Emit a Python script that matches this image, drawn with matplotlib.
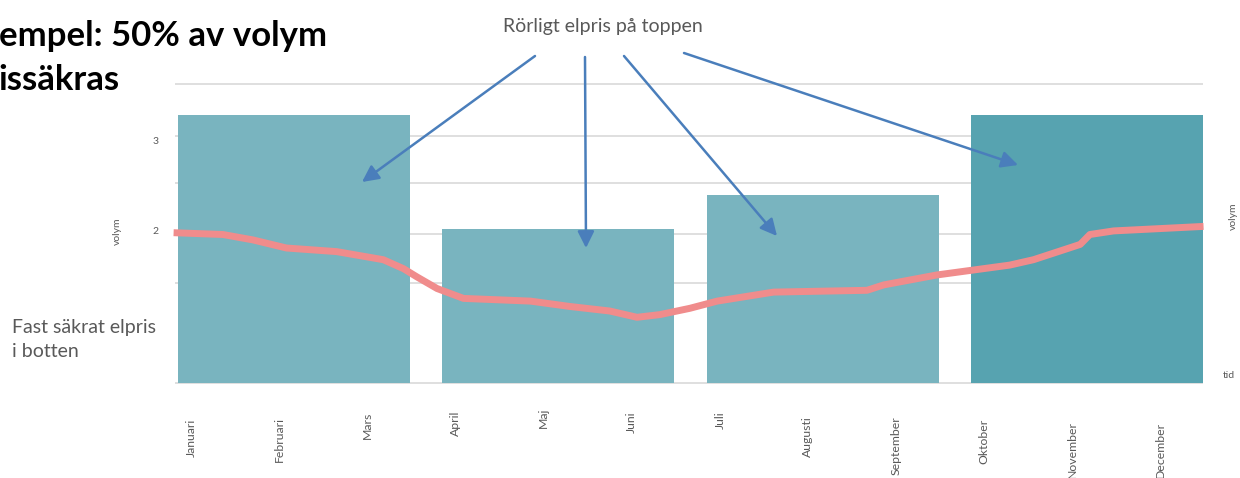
import numpy as np
import matplotlib
matplotlib.use("Agg")
import matplotlib.pyplot as plt

# --- data ---
months = ["Januari", "Februari", "Mars", "April", "Maj", "Juni",
          "Juli", "Augusti", "September", "Oktober", "November", "December"]
quarter_start = [0, 3, 6, 9]              # each bar covers three months
quarter_volume = [3.28, 2.01, 2.39, 3.28]
quarter_colors = ["#79b4bf", "#79b4bf", "#79b4bf", "#57a3b0"]

# hedged (fixed) price curve, x in months
price_x = [-0.05, 0.51, 0.85, 1.23, 1.80, 2.33, 2.56, 2.71, 2.94, 3.24, 4.00,
           4.45, 4.90, 5.21, 5.47, 5.81, 6.12, 6.76, 7.82, 8.01, 8.61, 9.44,
           9.71, 10.24, 10.35, 10.62, 11.64]
price_y = [1.97, 1.95, 1.89, 1.80, 1.76, 1.67, 1.57, 1.48, 1.35, 1.24, 1.21,
           1.15, 1.10, 1.03, 1.06, 1.13, 1.21, 1.31, 1.33, 1.39, 1.50, 1.61,
           1.67, 1.84, 1.95, 1.99, 2.04]

grid_levels = [3.62, 3.04, 2.52, 1.96, 1.41, 0.30]
ytick_vals = [2, 3]

# --- layout (pixels of a 1240x478 canvas) ---
W, H = 1240, 478
GREY = "#595959"
ARROW = "#4a7ebb"
FONT = ["Lato", "DejaVu Sans"]
plt.rcParams["font.family"] = FONT

fig = plt.figure(figsize=(W / 100, H / 100), dpi=100)
ax = fig.add_axes([165 / W, (H - 383) / H, 1050 / W, 323 / H])
ax.set_xlim(-0.1476, 11.77)
ax.set_ylim(0.3, 3.889)

ax.hlines(grid_levels, -0.034, 11.635, color="#d9d9d9", lw=1.2, zorder=0, clip_on=False)
ax.bar(quarter_start, quarter_volume, width=2.633, align="edge",
       color=quarter_colors, zorder=1)
ax.plot(price_x, price_y, color="#f08c8c", lw=5, zorder=2,
        solid_joinstyle="round", solid_capstyle="butt")

for s in ax.spines.values():
    s.set_visible(False)
ax.set_yticks(ytick_vals)
ax.set_yticklabels([str(v) for v in ytick_vals], fontsize=7.5, color=GREY)
ax.tick_params(axis="y", length=0, pad=5)
ax.set_xticks([])

# month labels sit at slightly different heights on the slide
label_y_px = [437.7, 440, 425, 423.4, 417.4, 422.5, 420, 437, 446, 441, 450, 450]
for i, (m, py) in enumerate(zip(months, label_y_px)):
    ax.text(i + 0.15, (383 - py) / 323, m, transform=ax.get_xaxis_transform(),
            rotation=90, ha="center", va="center", fontsize=8.8, color=GREY)

# slide texts
fig.text(-0.001, (H - 46) / H, "empel: 50% av volym", fontsize=25,
         fontweight="bold", color="black", va="baseline")
fig.text(-0.001, (H - 90) / H, "issäkras", fontsize=25,
         fontweight="bold", color="black", va="baseline")
fig.text(603 / W, (H - 32) / H, "Rörligt elpris på toppen", fontsize=14,
         color=GREY, ha="center", va="baseline")
fig.text(12 / W, (H - 333) / H, "Fast säkrat elpris", fontsize=14,
         color=GREY, va="baseline")
fig.text(12 / W, (H - 357) / H, "i botten", fontsize=14,
         color=GREY, va="baseline")
fig.text(117 / W, (H - 231) / H, "volym", fontsize=7.5, color=GREY,
         rotation=90, ha="center", va="center")
fig.text(1233 / W, (H - 216) / H, "volym", fontsize=7.5, color=GREY,
         rotation=90, ha="center", va="center")
fig.text(1229 / W, (H - 375) / H, "tid", fontsize=7.5, color=GREY,
         ha="center", va="center")

# arrows from the heading down into the bars
arrow_from = [(535, 56), (585, 57), (624, 56), (684, 53)]
arrow_to = [(362, 182), (586, 248), (777, 236), (1018, 165)]
for (x0, y0), (x1, y1) in zip(arrow_from, arrow_to):
    fig.patches.append(matplotlib.patches.FancyArrowPatch(
        (x0 / W, (H - y0) / H), (x1 / W, (H - y1) / H),
        transform=fig.transFigure, arrowstyle="-|>,head_length=0.5,head_width=0.25",
        mutation_scale=20, color=ARROW, lw=1.8, shrinkA=0, shrinkB=0))

fig.savefig("out.png", dpi=100)
